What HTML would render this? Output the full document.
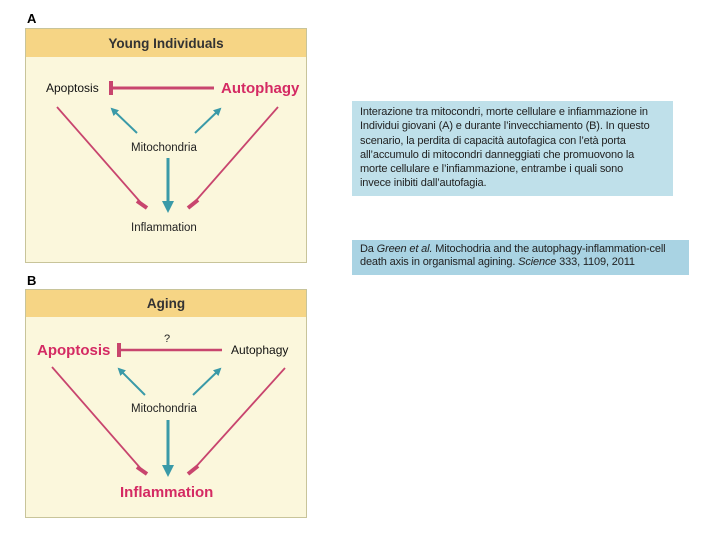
<!DOCTYPE html>
<html><head><meta charset="utf-8"><style>
body{margin:0;width:720px;height:540px;background:#fff;position:relative;font-family:"Liberation Sans",sans-serif;overflow:hidden}
.t{position:absolute;font-size:11px;color:#222;padding:0 8px;box-sizing:border-box;letter-spacing:-0.15px;white-space:nowrap}
</style></head><body>
<svg width="720" height="540" style="position:absolute;left:0;top:0" font-family="Liberation Sans, sans-serif">
<defs>
<marker id="ta" markerWidth="8" markerHeight="8" refX="6" refY="4" orient="auto" markerUnits="userSpaceOnUse"><path d="M0,0 L8,4 L0,8 Z" fill="#3a9aa8"/></marker>
<marker id="tb" markerWidth="12" markerHeight="12" refX="9" refY="6" orient="auto" markerUnits="userSpaceOnUse"><path d="M0,0 L12,6 L0,12 Z" fill="#3a9aa8"/></marker>
</defs>
<text x="27" y="23" font-size="13" font-weight="bold">A</text>
<rect x="25.5" y="28.5" width="281" height="234" fill="#fbf7dc" stroke="#c8c49a"/>
<rect x="26" y="29" width="280" height="28" fill="#f6d585"/>
<text x="166" y="48" font-size="13.5" font-weight="bold" fill="#333" text-anchor="middle">Young Individuals</text>
<text x="46" y="92" font-size="12" fill="#111">Apoptosis</text>
<text x="221" y="93" font-size="15" font-weight="bold" fill="#d42a63">Autophagy</text>
<line x1="112" y1="88" x2="214" y2="88" stroke="#c8456e" stroke-width="3"/>
<line x1="111" y1="81" x2="111" y2="95" stroke="#c8456e" stroke-width="4"/>
<text x="131" y="151" font-size="11.5" fill="#222">Mitochondria</text>
<text x="131" y="231" font-size="11.5" fill="#222">Inflammation</text>
<line x1="57" y1="107" x2="142" y2="204" stroke="#c8456e" stroke-width="1.8"/>
<line x1="137" y1="201" x2="147" y2="208" stroke="#c8456e" stroke-width="4"/>
<line x1="278" y1="107" x2="193" y2="204" stroke="#c8456e" stroke-width="1.8"/>
<line x1="188" y1="208" x2="198" y2="200" stroke="#c8456e" stroke-width="4"/>
<line x1="137" y1="133" x2="112" y2="109" stroke="#3a9aa8" stroke-width="2" marker-end="url(#ta)"/>
<line x1="195" y1="133" x2="220" y2="109" stroke="#3a9aa8" stroke-width="2" marker-end="url(#ta)"/>
<line x1="168" y1="158" x2="168" y2="210" stroke="#3a9aa8" stroke-width="3" marker-end="url(#tb)"/>

<text x="27" y="285" font-size="13" font-weight="bold">B</text>
<rect x="25.5" y="289.5" width="281" height="228" fill="#fbf7dc" stroke="#c8c49a"/>
<rect x="26" y="290" width="280" height="27" fill="#f6d585"/>
<text x="166" y="308" font-size="13.5" font-weight="bold" fill="#333" text-anchor="middle">Aging</text>
<text x="167" y="342" font-size="11" fill="#222" text-anchor="middle">?</text>
<text x="37" y="355" font-size="15" font-weight="bold" fill="#d42a63">Apoptosis</text>
<text x="231" y="354" font-size="12" fill="#111">Autophagy</text>
<line x1="120" y1="350" x2="222" y2="350" stroke="#c8456e" stroke-width="2.5"/>
<line x1="119" y1="343" x2="119" y2="357" stroke="#c8456e" stroke-width="4"/>
<text x="131" y="412" font-size="11.5" fill="#222">Mitochondria</text>
<text x="120" y="497" font-size="15" font-weight="bold" fill="#d42a63">Inflammation</text>
<line x1="52" y1="367" x2="142" y2="470" stroke="#c8456e" stroke-width="1.8"/>
<line x1="137" y1="467" x2="147" y2="474" stroke="#c8456e" stroke-width="4"/>
<line x1="285" y1="368" x2="193" y2="470" stroke="#c8456e" stroke-width="1.8"/>
<line x1="188" y1="474" x2="198" y2="466" stroke="#c8456e" stroke-width="4"/>
<line x1="145" y1="395" x2="119" y2="369" stroke="#3a9aa8" stroke-width="2" marker-end="url(#ta)"/>
<line x1="193" y1="395" x2="220" y2="369" stroke="#3a9aa8" stroke-width="2" marker-end="url(#ta)"/>
<line x1="168" y1="420" x2="168" y2="474" stroke="#3a9aa8" stroke-width="3" marker-end="url(#tb)"/>
</svg>
<div class="t" style="left:352px;top:101px;width:321px;height:95px;background:#bfe0ea;line-height:14.3px;padding-top:4px">Interazione tra mitocondri, morte cellulare e infiammazione in<br>Individui giovani (A) e durante l’invecchiamento (B). In questo<br>scenario, la perdita di capacità autofagica con l’età porta<br>all’accumulo di mitocondri danneggiati che promuovono la<br>morte cellulare e l’infiammazione, entrambe i quali sono<br>invece inibiti dall’autofagia.</div>
<div class="t" style="left:352px;top:240px;width:337px;height:35px;background:#a9d3e3;line-height:13px;padding-top:3px">Da <i>Green et al.</i> Mitochodria and the autophagy-inflammation-cell<br>death axis in organismal agining. <i>Science</i> 333, 1109, 2011</div>
</body></html>
